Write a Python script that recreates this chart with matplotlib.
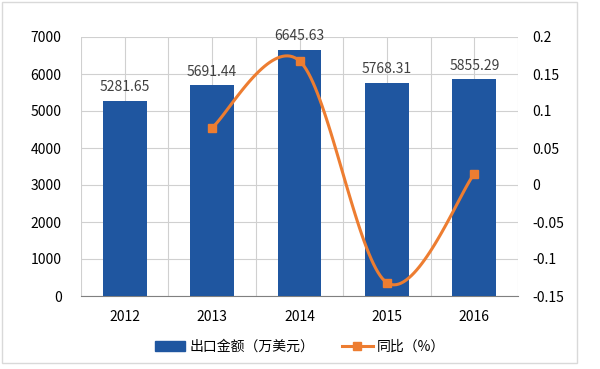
import numpy as np
import matplotlib
matplotlib.use("Agg")
import matplotlib.pyplot as plt
from matplotlib.patches import Rectangle
from matplotlib.lines import Line2D

plt.rcParams['font.family'] = ['Noto Sans CJK SC', 'DejaVu Sans']

years = ["2012", "2013", "2014", "2015", "2016"]
export_values = [5281.65, 5691.44, 6645.63, 5768.31, 5855.29]
yoy_years = ["2013", "2014", "2015", "2016"]
yoy_values = [0.0776, 0.1677, -0.1320, 0.0151]
bar_label = "出口金额（万美元）"
line_label = "同比（%）"

bar_color = "#1F56A0"
line_color = "#ED7D31"
grid_color = "#D0D0D0"

fig = plt.figure(figsize=(6, 3.69), dpi=100)
fig.patches.append(Rectangle((2 / 600, 6 / 369), 575 / 600, 361 / 369, transform=fig.transFigure,
                             fill=False, edgecolor="#D9D9D9", lw=1.0))
ax = fig.add_axes([81 / 600, 1 - 296 / 369, 437 / 600, 259 / 369])
ax2 = ax.twinx()

x = np.arange(len(years))
ax.bar(x, export_values, width=0.5, color=bar_color, zorder=3, label=bar_label)
for xi, v in zip(x, export_values):
    ax.text(xi, v + 180, f"{v:.2f}", ha="center", va="bottom", fontsize=10, color="#404040")

ax.set_xlim(-0.5, len(years) - 0.5)
ax.set_ylim(0, 7000)
ax.set_yticks(range(0, 7001, 1000))
ax.set_xticks(x)
ax.set_xticklabels(years)
ax.set_xticks(np.arange(-0.5, len(years), 1), minor=True)
ax.grid(axis="y", color=grid_color, lw=0.8, zorder=0)
ax.grid(axis="x", which="both", color=grid_color, lw=0.8, zorder=0)
ax.tick_params(axis="both", which="both", length=0, labelsize=10, colors="#000000")
ax.tick_params(axis="x", pad=10)
ax.tick_params(axis="y", pad=14)
for s in ["top", "right", "left"]:
    ax.spines[s].set_visible(False)
ax.spines["bottom"].set_color("#808080")

# smooth line (Bezier through points, like Excel's smoothed line)
xl = np.array([years.index(y) for y in yoy_years], dtype=float)
yl = np.array(yoy_values)
P = np.column_stack([xl, yl])
pts = []
n = len(P)
for i in range(n - 1):
    p0 = P[i - 1] if i > 0 else P[i]
    p1 = P[i]
    p2 = P[i + 1]
    p3 = P[i + 2] if i + 2 < n else P[i + 1]
    c1 = p1 + (p2 - p0) / 6
    c2 = p2 - (p3 - p1) / 6
    t = np.linspace(0, 1, 40)[:, None]
    seg = (1 - t) ** 3 * p1 + 3 * (1 - t) ** 2 * t * c1 + 3 * (1 - t) * t ** 2 * c2 + t ** 3 * p2
    pts.append(seg)
pts = np.vstack(pts)
ax2.plot(pts[:, 0], pts[:, 1], color=line_color, lw=2.2, zorder=4)
ax2.plot(xl, yl, linestyle="none", marker="s", markersize=6, color=line_color, zorder=5)
ax2.set_ylim(-0.15, 0.2)
ax2.set_yticks([-0.15, -0.1, -0.05, 0, 0.05, 0.1, 0.15, 0.2])
ax2.set_yticklabels(["-0.15", "-0.1", "-0.05", "0", "0.05", "0.1", "0.15", "0.2"])
ax2.tick_params(axis="y", length=0, labelsize=10, pad=10)
for s in ["top", "right", "left", "bottom"]:
    ax2.spines[s].set_visible(False)

handles = [Rectangle((0, 0), 1, 1, color=bar_color),
           Line2D([0], [0], color=line_color, lw=2.2, marker="s", markersize=6)]
fig.legend(handles, [bar_label, line_label], loc="center", bbox_to_anchor=(0.5, 1 - 347 / 369),
           ncol=2, frameon=False, fontsize=10, handlelength=2.2, handletextpad=0.3, columnspacing=2.0)

fig.savefig("out.png", dpi=100)
